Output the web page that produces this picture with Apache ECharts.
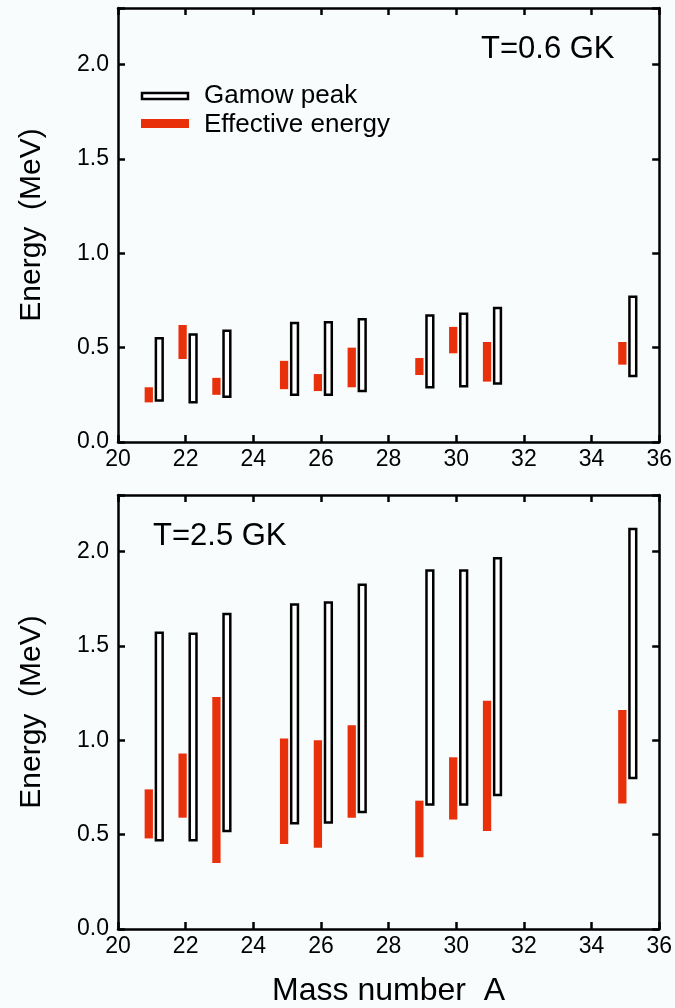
<!DOCTYPE html>
<html>
<head>
<meta charset="utf-8">
<script src="https://cdn.jsdelivr.net/npm/echarts@6/dist/echarts.min.js"></script>
<style>
html,body{margin:0;padding:0;background:#f8fcfd;}
#chart{width:675px;height:1008px;}
</style>
</head>
<body>
<div id="chart"></div>
<script>
// ---- data ----
const massNumbers = [21, 22, 23, 25, 26, 27, 29, 30, 31, 35];
// T = 0.6 GK
const gamowLow06  = [0.22, 0.21, 0.24, 0.25, 0.25, 0.27, 0.29, 0.295, 0.31, 0.35];
const gamowHigh06 = [0.55, 0.57, 0.59, 0.63, 0.635, 0.65, 0.67, 0.68, 0.71, 0.77];
const effLow06    = [0.21, 0.44, 0.25, 0.28, 0.27, 0.29, 0.355, 0.47, 0.32, 0.41];
const effHigh06   = [0.29, 0.62, 0.34, 0.43, 0.36, 0.50, 0.445, 0.61, 0.53, 0.53];
// T = 2.5 GK
const gamowLow25  = [0.47, 0.47, 0.52, 0.56, 0.565, 0.62, 0.66, 0.66, 0.71, 0.80];
const gamowHigh25 = [1.57, 1.565, 1.67, 1.72, 1.73, 1.825, 1.90, 1.90, 1.965, 2.12];
const effLow25    = [0.48, 0.59, 0.35, 0.45, 0.43, 0.59, 0.38, 0.58, 0.52, 0.665];
const effHigh25   = [0.74, 0.93, 1.23, 1.01, 1.00, 1.08, 0.68, 0.91, 1.21, 1.16];
const xTicks = [20, 22, 24, 26, 28, 30, 32, 34, 36];
const yTicks = [0.0, 0.5, 1.0, 1.5, 2.0];
const panelLabels = ['T=0.6 GK', 'T=2.5 GK'];
const legendNames = ['Gamow peak', 'Effective energy'];

const FONT = "'Liberation Sans', Arial, Helvetica, sans-serif";
const RED = '#e8300a';

function rows(lo, hi) { return massNumbers.map((m, i) => [m, lo[i], hi[i]]); }

function barRender(offset, widthUnits, style) {
  return function (params, api) {
    const x = api.value(0) + offset;
    const lo = api.coord([x, api.value(1)]);
    const hi = api.coord([x, api.value(2)]);
    const w = api.size([widthUnits, 0])[0];
    return {
      type: 'rect',
      shape: { x: lo[0] - w / 2, y: hi[1], width: w, height: lo[1] - hi[1] },
      style: style
    };
  };
}

const gamowStyle = { fill: '#ffffff', stroke: '#000000', lineWidth: 2.5 };
const effStyle = { fill: RED };

const xMin = xTicks[0], xMax = xTicks[xTicks.length - 1];
const yMin = yTicks[0], yMax = 2.3;

function xAx(grid, pos, labels, name) {
  return {
    gridIndex: grid, type: 'value', position: pos, min: xMin, max: xMax, interval: 2,
    axisLine: { show: true, onZero: false, lineStyle: { color: '#000', width: 2.5 } },
    axisTick: { show: true, inside: true, length: 7, lineStyle: { color: '#000', width: 2.5 } },
    axisLabel: { show: labels, margin: 6, color: '#000', fontSize: 23, fontFamily: FONT },
    splitLine: { show: false },
    name: name || '', nameLocation: 'middle', nameGap: 46,
    nameTextStyle: { color: '#000', fontSize: 32, fontFamily: FONT }
  };
}
function yAx(grid, pos, labels) {
  return {
    gridIndex: grid, type: 'value', position: pos, min: yMin, max: yMax, interval: 0.5,
    axisLine: { show: true, onZero: false, lineStyle: { color: '#000', width: 2.5 } },
    axisTick: { show: true, inside: true, length: 7, lineStyle: { color: '#000', width: 2.5 } },
    axisLabel: { show: labels, margin: 9, color: '#000', fontSize: 23, fontFamily: FONT,
      formatter: v => (v > 2.05 ? '' : v.toFixed(1)) },
    splitLine: { show: false },
    name: labels ? 'Energy  (MeV)' : '', nameLocation: 'middle', nameRotate: 90, nameGap: 71,
    nameTextStyle: { color: '#000', fontSize: 30, fontFamily: FONT }
  };
}

const option = {
  backgroundColor: '#f8fcfd',
  animation: false,
  grid: [
    { left: 118, right: 15, top: 8, height: 434 },
    { left: 118, right: 15, top: 495, height: 434 }
  ],
  xAxis: [
    xAx(0, 'bottom', true), xAx(0, 'top', false),
    xAx(1, 'bottom', true, 'Mass number  A'), xAx(1, 'top', false)
  ],
  yAxis: [
    yAx(0, 'left', true), yAx(0, 'right', false),
    yAx(1, 'left', true), yAx(1, 'right', false)
  ],
  series: [
    { type: 'custom', name: legendNames[1], xAxisIndex: 0, yAxisIndex: 0,
      renderItem: barRender(-0.09, 0.245, effStyle), data: rows(effLow06, effHigh06) },
    { type: 'custom', name: legendNames[0], xAxisIndex: 0, yAxisIndex: 0,
      renderItem: barRender(0.22, 0.2, gamowStyle), data: rows(gamowLow06, gamowHigh06) },
    { type: 'custom', name: legendNames[1], xAxisIndex: 2, yAxisIndex: 2,
      renderItem: barRender(-0.09, 0.245, effStyle), data: rows(effLow25, effHigh25) },
    { type: 'custom', name: legendNames[0], xAxisIndex: 2, yAxisIndex: 2,
      renderItem: barRender(0.22, 0.2, gamowStyle), data: rows(gamowLow25, gamowHigh25) }
  ],
  graphic: [
    { type: 'text', left: 481, top: 34, style: { text: panelLabels[0], fill: '#000', font: '31px ' + FONT } },
    { type: 'text', left: 153, top: 521, style: { text: panelLabels[1], fill: '#000', font: '31px ' + FONT } },
    { type: 'rect', shape: { x: 142, y: 93, width: 46, height: 6 }, style: { fill: '#fff', stroke: '#000', lineWidth: 2.5 } },
    { type: 'rect', shape: { x: 141, y: 119, width: 48, height: 9 }, style: { fill: RED } },
    { type: 'text', x: 204, y: 96, style: { text: legendNames[0], fill: '#000', font: '26px ' + FONT, textVerticalAlign: 'middle' } },
    { type: 'text', x: 204, y: 125, style: { text: legendNames[1], fill: '#000', font: '26px ' + FONT, textVerticalAlign: 'middle' } }
  ]
};

const chart = echarts.init(document.getElementById('chart'), null, { renderer: 'canvas' });
chart.setOption(option);
</script>
</body>
</html>
